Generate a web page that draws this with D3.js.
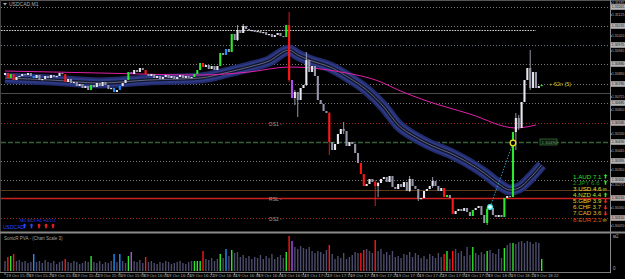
<!DOCTYPE html>
<html><head><meta charset="utf-8">
<script src="https://cdn.jsdelivr.net/npm/d3@7"></script>
<style>html,body{margin:0;padding:0;background:#000;overflow:hidden}text{font-family:"Liberation Sans","DejaVu Sans",sans-serif}</style>
</head><body><svg id="c" width="625" height="279"></svg>
<script>
// ---------- DATA ----------
const symbolTitle = "USDCAD,M1";
const firstOpen = 1.30825;
const closes = [
1.30835,1.3081,1.3083,1.3080,1.30815,1.3082,1.3083,1.30825,1.30835,1.3082,
1.3081,1.30825,1.3080,1.30805,1.3082,1.3081,1.30825,1.30815,1.3082,1.30835,
1.3083,1.3079,1.30805,1.30785,1.3079,1.3077,1.3078,1.3076,1.3077,1.3075,
1.30775,1.30765,1.30785,1.3077,1.3079,1.30775,1.30755,1.3076,1.3074,1.3075,
1.3077,1.30785,1.3080,1.3084,1.3083,1.3085,1.3084,1.3086,1.3085,1.3083,
1.3082,1.3083,1.3081,1.3082,1.30805,1.30815,1.30825,1.3081,1.3082,1.30805,
1.30815,1.30825,1.3081,1.3082,1.3081,1.30815,1.3083,1.3085,1.30885,1.30865,
1.30875,1.30855,1.3087,1.3085,1.3087,1.30935,1.30925,1.30955,1.3094,1.3103,
1.3100,1.3105,1.31035,1.3107,1.31055,1.31045,1.3105,1.3104,1.31045,1.31035,
1.3104,1.31025,1.3103,1.31015,1.31025,1.31035,1.3102,1.31015,1.31075,1.3080,
1.3071,1.3074,1.3070,1.3076,1.30775,1.3090,1.3084,1.3087,1.3082,1.3070,
1.3068,1.30645,1.30635,1.3049,1.3045,1.3048,1.3053,1.30555,1.30545,1.3047,
1.3049,1.3048,1.30435,1.30385,1.3033,1.3027,1.3028,1.30305,1.3029,1.3027,
1.30285,1.30305,1.30315,1.3029,1.3032,1.30265,1.30255,1.3028,1.30265,1.3029,
1.30245,1.30305,1.3027,1.30255,1.30205,1.3021,1.30245,1.30255,1.3027,1.30295,
1.3027,1.30245,1.3026,1.30215,1.30225,1.3021,1.3013,1.30145,1.30155,1.30145,
1.3016,1.3014,1.3012,1.3015,1.3016,1.3017,1.30125,1.30085,1.30155,1.3016,
1.30125,1.30115,1.30125,1.30115,1.3021,1.3022,1.30215,1.3054,1.3061,1.3056,
1.3069,1.3080,1.3086,1.3076,1.3084,1.3076,1.3077,1.30775
];
// [bar, high, low] for bars with visible wicks
const wicks = [
[81,1.31075,1.30995],[83,1.3108,1.31045],[99,1.3114,1.3079],[101,1.3075,1.30675],
[102,1.3074,1.30615],[105,1.3094,1.3077],[113,1.3064,1.30425],[118,1.3059,1.3053],
[129,1.3030,1.3017],[130,1.3029,1.30215],[141,1.3032,1.3024],[144,1.30225,1.30195],
[149,1.30315,1.3026],[168,1.30165,1.30075],[178,1.30635,1.3045],[179,1.30625,1.3055],
[183,1.3095,1.3075]
];
const redBars = [1,3,21,49,69,99,113,124,125,129,153,156];
const greenBars = [2,30,43,66,67,68,75,79,98,154,163,168,174,177,187];
const blueBars = [10,38,40,77];
const purpleBars = [44,100];
const volumes = [
200,280,300,340,200,220,180,200,160,180,
340,180,200,160,220,180,160,200,140,180,
200,240,180,160,200,180,140,160,200,180,
300,180,160,200,140,180,160,200,340,180,
340,200,160,300,380,200,180,220,160,280,
180,200,160,140,180,160,200,180,140,160,
180,200,160,140,180,200,200,200,200,400,
240,220,260,200,240,340,260,440,300,420,
360,380,280,320,260,300,240,280,260,320,
240,300,260,340,240,280,320,260,380,700,
600,480,440,500,460,440,480,400,360,400,
380,340,420,520,340,240,300,260,360,240,
280,320,380,360,360,420,440,400,360,620,
400,440,340,380,320,400,280,300,260,340,
320,380,280,360,320,260,300,240,340,300,
260,360,280,340,400,240,400,440,360,400,
300,480,320,480,360,320,380,340,400,420,
360,340,440,260,460,520,560,560,540,580,
600,560,600,580,540,580,560,240
];
// moving-average ribbon and slow MA: [bar, price]
const ribbonPts = [[0,1.3081],[16,1.3080],[33,1.30785],[50,1.3080],[68,1.3081],[78,1.3084],[85,1.30865],[92,1.30895],[99,1.3095],[102,1.30925],[106,1.3090],[114,1.3086],[120,1.3081],[126,1.3075],[132,1.30665],[137,1.30575],[143,1.30515],[149,1.3047],[155,1.30435],[161,1.3039],[167,1.30335],[172,1.3028],[176,1.3025],[179,1.3026],[183,1.3031],[187,1.30375]];
const maPts = [[0,1.30845],[33,1.30835],[68,1.30825],[85,1.3084],[99,1.30865],[117,1.3084],[131,1.3079],[137,1.3075],[146,1.3070],[162,1.3063],[178,1.3056],[185,1.30575]];
const wavePts = [[169,1.30165],[177,1.30485]];
const levels = [[1.31165,"dot"],[1.3107,"dot"],[1.3105,"white"],[1.30975,"dotblue"],[1.3088,"dot"],[1.3078,"dot"],[1.30735,"solidgrey"],[1.30685,"dot"],[1.30585,"dotred"],[1.3049,"dashgreen"],[1.30395,"dot"],[1.3030,"dot"],[1.3025,"solidbrown"],[1.3021,"solidred"],[1.3011,"dotred"]];
const levelLabels = [[1.30585,"DS1"],[1.3021,"RSL"],[1.3011,"DS2"]];
const priceTicks = [1.31185,1.31125,1.3102,1.30945,1.3083,1.30715,1.3065,1.3053,1.30445,1.3035,1.30275,1.3016,1.3007];
const timeLabels = ["19 Oct 15:18","19 Oct 15:26","19 Oct 15:34","19 Oct 15:42","19 Oct 15:50","19 Oct 15:58","19 Oct 16:06","19 Oct 16:14","19 Oct 16:22","19 Oct 16:30","19 Oct 16:38","19 Oct 16:46","19 Oct 16:54","19 Oct 17:02","19 Oct 17:10","19 Oct 17:18","19 Oct 17:26","19 Oct 17:34","19 Oct 17:42","19 Oct 17:50","19 Oct 17:58","19 Oct 18:06","19 Oct 18:14","19 Oct 18:22"];
const strengthNames = ["1.AUD","2.JPY","3.USD","4.NZD","5.GBP","6.CHF","7.CAD","8.EUR"];
const strengthValues = [7.1,6.6,4.6,4.4,3.9,3.7,3.6,2.1];
const strengthDir = ["up","up","flat","up","down","down","down","flat"];
const tfLabel = "M5 M15 H1 H4 D1";
const tfDir = ["up","up","dn","dn","dn"];
const panelTitle = "SonicR PVA - (Chart Scale 3)";
const tagText = "+ 62n (5)";

// ---------- DRAW ----------
const W=625,H=279, AX=610.5, MAINB=231, PANT=235, PANB=271;
const svg=d3.select("#c");
svg.append("rect").attr("width",W).attr("height",H).attr("fill","#000");
const defs=svg.append("defs");
defs.append("clipPath").attr("id","mc").append("rect").attr("x",1).attr("y",1).attr("width",AX-1).attr("height",MAINB-1);

const N=closes.length;
const x=d3.scaleLinear().domain([0,N-1]).range([5,5+(N-1)*2.87]);
const y=d3.scaleLinear().domain([1.30045,1.312]).range([MAINB,0]);
const opens=closes.map((c,i)=>i===0?firstOpen:closes[i-1]);
const colorOf=i=>redBars.includes(i)?"#ff1616":greenBars.includes(i)?"#2ee82e":blueBars.includes(i)?"#1e8fff":purpleBars.includes(i)?"#b24cf0":null;

// frame
svg.append("line").attr("x1",0).attr("x2",W).attr("y1",0.5).attr("y2",0.5).attr("stroke","#555");
svg.append("line").attr("x1",0.5).attr("x2",0.5).attr("y1",0).attr("y2",PANB+1).attr("stroke","#444");

const g=svg.append("g").attr("clip-path","url(#mc)");
// levels
const lvStyle={
 dot:{c:"#7a7a7a",w:1,d:"1,2"}, white:{c:"#d8d8d8",w:1.2,d:"1.5,1.2"}, dotblue:{c:"#6a7a90",w:1,d:"1,2"},
 solidgrey:{c:"#4a4a4a",w:1,d:null}, dotred:{c:"#a02828",w:1,d:"1,2"}, dashgreen:{c:"#35603a",w:1.4,d:"5,2"},
 solidbrown:{c:"#5a3a18",w:1,d:null}, solidred:{c:"#c82020",w:1.4,d:null}
};
levels.forEach(([p,k])=>{
  const s=lvStyle[k];
  g.append("line").attr("x1",1).attr("x2",k==="white"?536:AX).attr("y1",Math.round(y(p))+0.5).attr("y2",Math.round(y(p))+0.5)
   .attr("stroke",s.c).attr("stroke-width",s.w).attr("stroke-dasharray",s.d);
});
levelLabels.forEach(([p,t])=>{
  g.append("text").attr("x",x(92)).attr("y",y(p)+3).attr("font-size",5).attr("fill","#9a9a9a").text(t+" -");
});

// ribbon
const rl=d3.line().x(d=>x(d[0])).y(d=>y(d[1])).curve(d3.curveMonotoneX);
g.append("path").attr("d",rl(ribbonPts)).attr("fill","none").attr("stroke","#222c6c").attr("stroke-width",11);
g.append("path").attr("d",rl(ribbonPts)).attr("fill","none").attr("stroke","#2e3a86").attr("stroke-width",7.5);
g.append("path").attr("d",rl(ribbonPts)).attr("fill","none").attr("stroke","#12172e").attr("stroke-width",3.6);
g.append("path").attr("d",rl(ribbonPts)).attr("fill","none").attr("stroke","#7a7a94").attr("stroke-width",0.8);
// slow MA
g.append("path").attr("d",rl(maPts)).attr("fill","none").attr("stroke","#e020a8").attr("stroke-width",1);

// candles
g.selectAll("line.w").data(wicks).join("line").attr("class","w")
 .attr("x1",d=>x(d[0])).attr("x2",d=>x(d[0])).attr("y1",d=>y(d[1])).attr("y2",d=>y(d[2]))
 .attr("stroke",d=>colorOf(d[0])||"#a8a8b8").attr("stroke-width",0.9);
g.selectAll("rect.c").data(closes).join("rect").attr("class","c")
 .attr("x",(d,i)=>x(i)-1.05).attr("width",2.1)
 .attr("y",(d,i)=>y(Math.max(d,opens[i])))
 .attr("height",(d,i)=>Math.max(1.2,y(Math.min(d,opens[i]))-y(Math.max(d,opens[i]))))
 .attr("fill",(d,i)=>colorOf(i)||(d>=opens[i]?"#e6e6ee":"#9696aa"));

// wave markers
g.append("line").attr("x1",x(wavePts[0][0])).attr("y1",y(wavePts[0][1])).attr("x2",x(wavePts[1][0])).attr("y2",y(wavePts[1][1]))
 .attr("stroke","#2aa8d0").attr("stroke-width",0.9).attr("stroke-dasharray","1.5,1.5");
g.append("circle").attr("cx",x(wavePts[0][0])).attr("cy",y(wavePts[0][1])).attr("r",2.4).attr("fill","#ffffff").attr("stroke","#38e8f0").attr("stroke-width",1.2);
g.append("circle").attr("cx",x(wavePts[1][0])).attr("cy",y(wavePts[1][1])).attr("r",2.8).attr("fill","#000").attr("stroke","#f0e020").attr("stroke-width",1.3);

// tags
g.append("text").attr("x",549).attr("y",y(1.3078)+2).attr("font-size",5.5).attr("fill","#d4c020").text(tagText);
g.append("rect").attr("x",540).attr("y",y(1.3049)-3).attr("width",17).attr("height",6).attr("fill","#0c1a0c").attr("stroke","#3c7a3c").attr("stroke-width",0.7);
g.append("text").attr("x",541.5).attr("y",y(1.3049)+1.8).attr("font-size",4.3).attr("fill","#6aa06a").text("1.30490");

// title
svg.append("path").attr("d","M3,3 L7,3 L5,5.5 Z").attr("fill","#aaa");
svg.append("text").attr("x",9).attr("y",6).attr("font-size",5).attr("fill","#b0b0b0").text(symbolTitle);

// bottom-left timeframe arrows
svg.append("text").attr("x",20).attr("y",222).attr("font-size",4.3).attr("fill","#2a3cff").text(tfLabel);
svg.append("text").attr("x",3).attr("y",228.5).attr("font-size",5).attr("fill","#2a48ff").text("USDCAD");
const tfX=[24.5,31.5,39,46,53];
function arrow(cx,cy,dir,col,s){
  const k=dir==="up"?-1:1;
  return svg.append("path").attr("d",`M${cx},${cy+k*2.6*s} L${cx+2*s},${cy+k*0.4*s} L${cx+0.8*s},${cy+k*0.4*s} L${cx+0.8*s},${cy-k*2.2*s} L${cx-0.8*s},${cy-k*2.2*s} L${cx-0.8*s},${cy+k*0.4*s} L${cx-2*s},${cy+k*0.4*s} Z`).attr("fill",col);
}
tfDir.forEach((d,i)=>arrow(tfX[i],226,"up",d==="up"?"#2a48ff":"#ff2020",1));

// currency strength list
const sCol=["#2ee02e","#1a9a1a","#e0e030","#b8e030","#e8d830","#e8c830","#e8b830","#d85a10"];
strengthNames.forEach((n,i)=>{
  const yy=178.5+i*6.15;
  svg.append("text").attr("x",573).attr("y",yy).attr("font-size",6.2).attr("fill",sCol[i]).text(n+" "+strengthValues[i].toFixed(1));
  const dir=strengthDir[i];
  if(dir==="flat") svg.append("text").attr("x",602.5).attr("y",yy+0.5).attr("font-size",6).attr("fill","#e8e030").text("∞");
  else arrow(605.5,yy-2,dir,dir==="up"?"#30e030":"#ff2020",0.95);
});

// separators and axis line
svg.append("line").attr("x1",0).attr("x2",W).attr("y1",MAINB+1.5).attr("y2",MAINB+1.5).attr("stroke","#8a8a8a").attr("stroke-width",2);
svg.append("line").attr("x1",0).attr("x2",AX).attr("y1",PANB+1.5).attr("y2",PANB+1.5).attr("stroke","#7a7a7a").attr("stroke-width",1);
svg.append("line").attr("x1",AX).attr("x2",AX).attr("y1",0).attr("y2",PANB+2).attr("stroke","#8a8a8a").attr("stroke-width",1);

// price axis
function axText(xx,yy,t,col){
  return svg.append("text").attr("x",xx).attr("y",yy).attr("font-size",3.8).attr("fill",col)
    .attr("textLength",12.4).attr("lengthAdjust","spacingAndGlyphs").text(t);
}
priceTicks.forEach(p=>{
  svg.append("line").attr("x1",AX).attr("x2",AX+1.5).attr("y1",y(p)).attr("y2",y(p)).attr("stroke","#aaa");
  axText(612,y(p)+1.4,p.toFixed(5),"#b8b8b8");
});
levels.filter(l=>!["white","solidgrey","solidbrown"].includes(l[1])).forEach(([p,k])=>{
  const yy=y(p);
  svg.append("rect").attr("x",611).attr("y",yy-2.8).attr("width",14).attr("height",5.6).attr("fill",k==="dotred"||k==="solidred"?"#b8a8a8":"#b4b4b4");
  axText(611.8,yy+1.4,p.toFixed(5),"#1a1a1a");
});

// volume panel
const v=d3.scaleLinear().domain([0,720]).range([PANB,PANT]);
svg.append("text").attr("x",4).attr("y",239.5).attr("font-size",4.5).attr("fill","#a0a0a0").text(panelTitle);
svg.selectAll("line.v").data(volumes).join("line").attr("class","v")
 .attr("x1",(d,i)=>x(i)).attr("x2",(d,i)=>x(i)).attr("y1",PANB).attr("y2",d=>v(d))
 .attr("stroke",(d,i)=>colorOf(i)||"#4c4c6c").attr("stroke-width",1.4);
svg.append("text").attr("x",613).attr("y",238).attr("font-size",4.5).attr("fill","#aaa").text("м2");
svg.append("text").attr("x",613).attr("y",270).attr("font-size",4.5).attr("fill","#aaa").text("0");

// time axis
timeLabels.forEach((t,k)=>{
  const xx=x(k*8);
  svg.append("line").attr("x1",xx).attr("x2",xx).attr("y1",PANB+2).attr("y2",PANB+4).attr("stroke","#888");
  svg.append("text").attr("x",xx+1).attr("y",277).attr("font-size",4.3).attr("fill","#a8a8a8").text(t);
});
</script></body></html>
